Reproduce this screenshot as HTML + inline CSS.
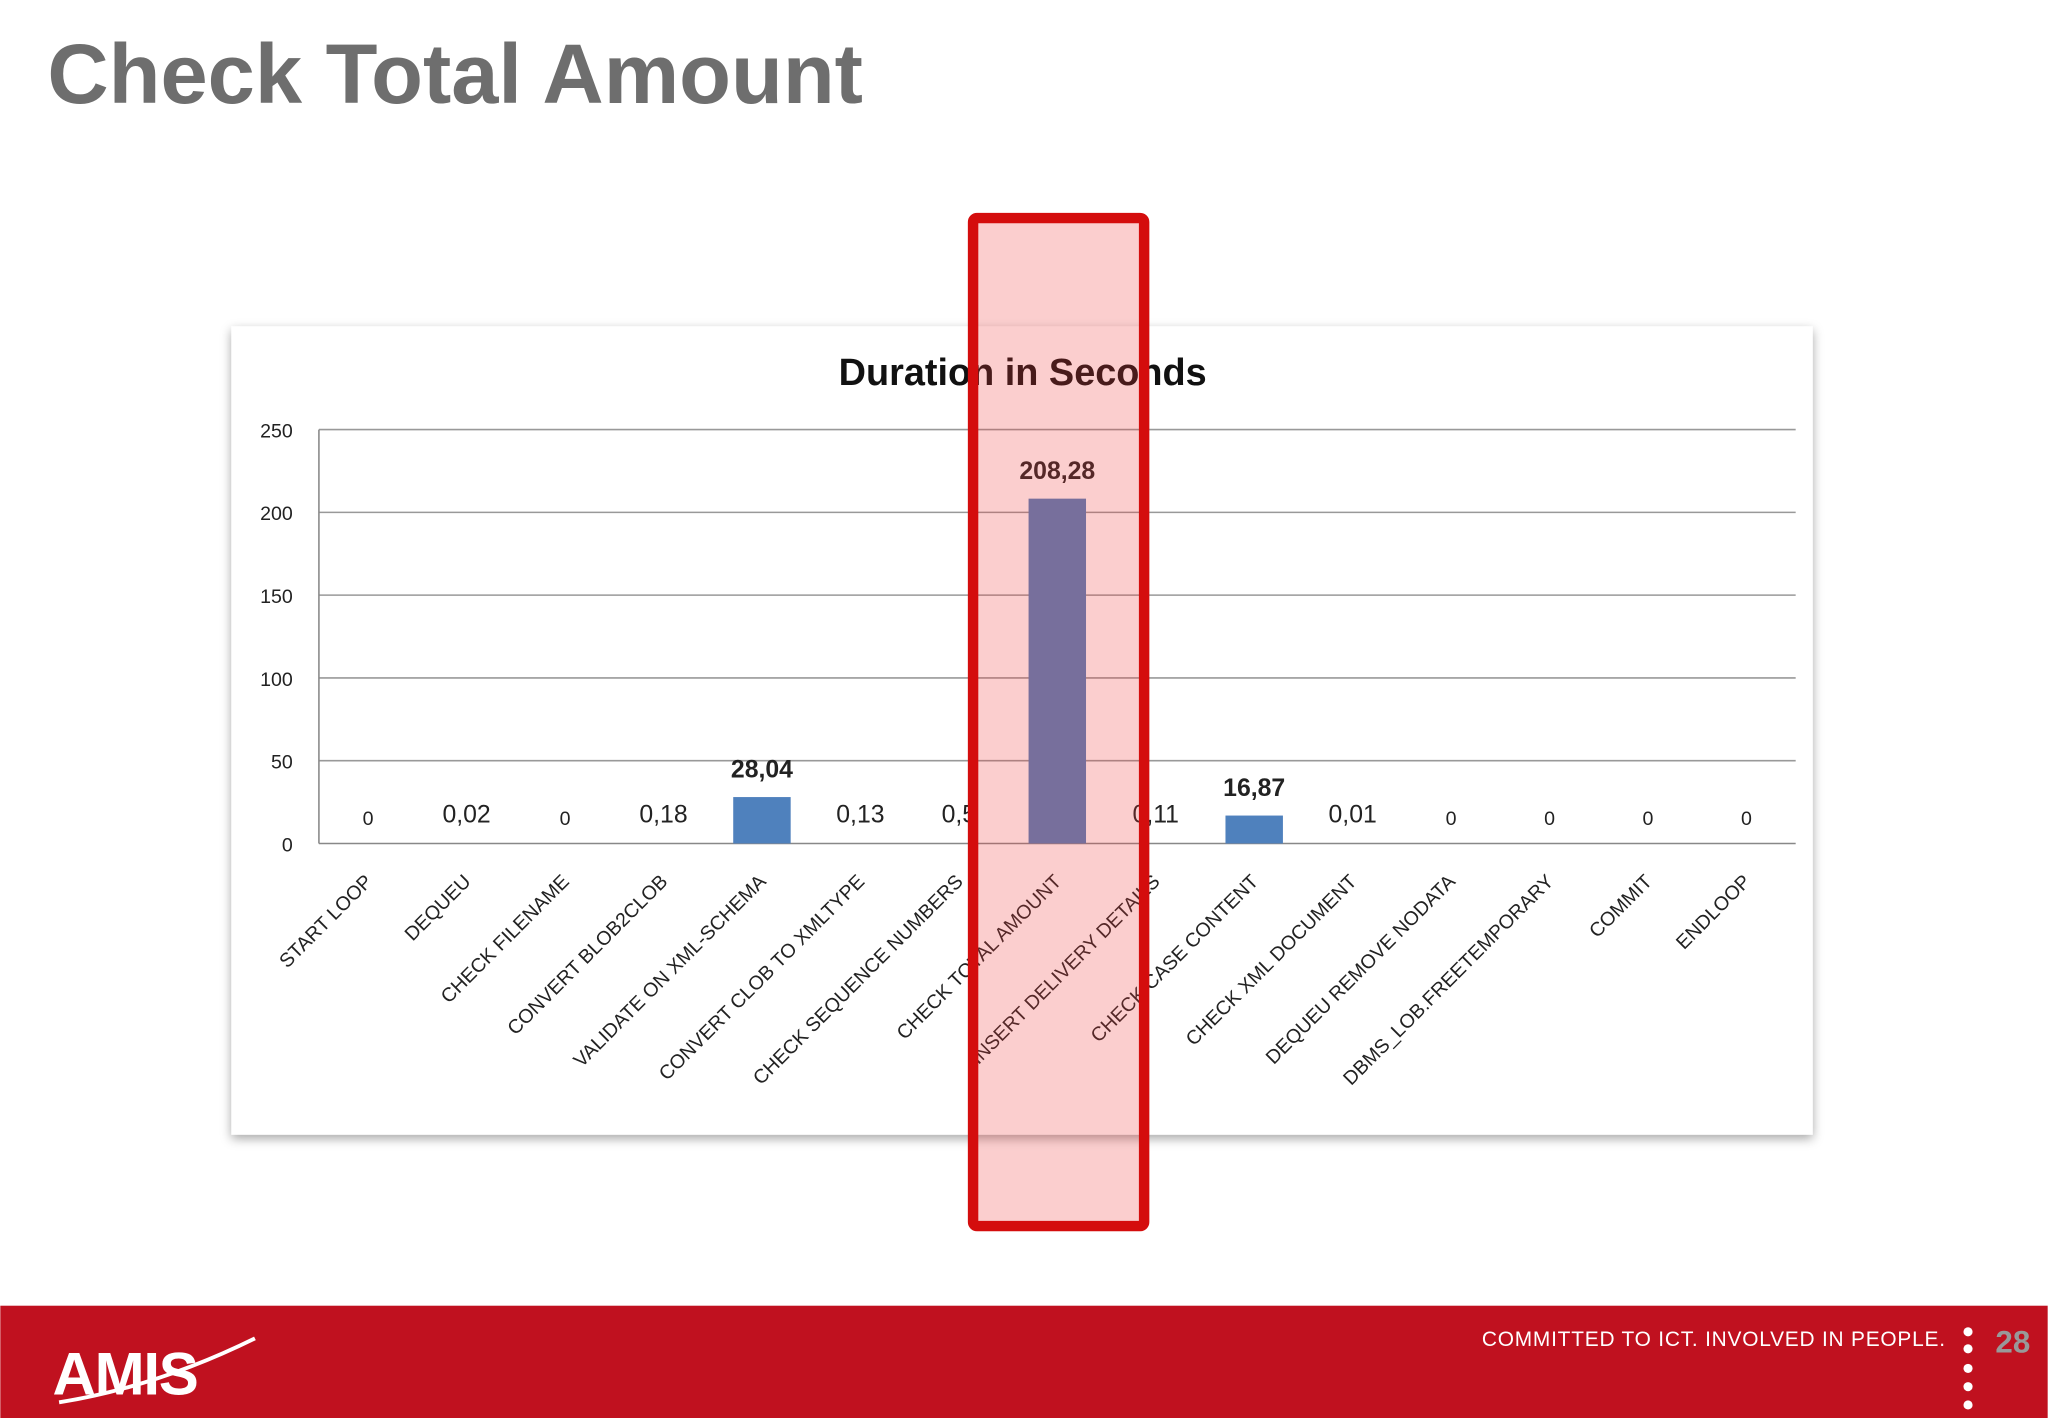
<!DOCTYPE html>
<html><head><meta charset="utf-8">
<style>
html,body{margin:0;padding:0;background:#fff;}
svg{display:block;font-family:"Liberation Sans",sans-serif;}
</style></head>
<body>
<svg id="s" width="2048" height="1418" viewBox="0 0 1568 1086" xmlns="http://www.w3.org/2000/svg">
<defs>
<filter id="sh" x="-5%" y="-5%" width="110%" height="115%"><feDropShadow dx="0" dy="3" stdDeviation="4" flood-color="#000" flood-opacity="0.35"/></filter>
</defs>
<text x="36" y="79" font-size="65" font-weight="bold" fill="#6e6e6e">Check Total Amount</text>
<rect x="177" y="250" width="1211" height="619" fill="#fff" filter="url(#sh)"/>
<text x="783" y="295" font-size="29" font-weight="bold" text-anchor="middle" fill="#111">Duration in Seconds</text>
<g id="grid"></g>
<g id="bars"></g>
<g id="labels"></g>
<rect x="745" y="167" width="131" height="772" rx="3" fill="rgba(240,60,60,0.25)" stroke="#d40d0d" stroke-width="8"/>
<rect x="0" y="1000" width="1568" height="86" fill="#c0111f"/>
<text x="40" y="1068" font-size="46" font-weight="bold" fill="#fff" letter-spacing="-1">AMIS</text>
<path d="M45 1074 Q120 1062 195 1025" stroke="#fff" stroke-width="3" fill="none"/>
<text x="1490" y="1031" font-size="16" fill="#fff" text-anchor="end" letter-spacing="0.6">COMMITTED TO ICT. INVOLVED IN PEOPLE.</text>
<g fill="#fff">
<circle cx="1507" cy="1020" r="3.5"/><circle cx="1507" cy="1033" r="3.5"/><circle cx="1507" cy="1048" r="3.5"/><circle cx="1507" cy="1062" r="3.5"/><circle cx="1507" cy="1076" r="3.5"/>
</g>
<text x="1528" y="1036" font-size="24" font-weight="bold" fill="#999">28</text>
</svg>
<script>
const categories=["START LOOP","DEQUEU","CHECK FILENAME","CONVERT BLOB2CLOB","VALIDATE ON XML-SCHEMA","CONVERT CLOB TO XMLTYPE","CHECK SEQUENCE  NUMBERS","CHECK TOTAL AMOUNT","INSERT DELIVERY DETAILS","CHECK CASE CONTENT","CHECK XML DOCUMENT","DEQUEU REMOVE NODATA","DBMS_LOB.FREETEMPORARY","COMMIT","ENDLOOP"];
const values=[0,0.02,0,0.18,28.04,0.13,0.5,208.28,0.11,16.87,0.01,0,0,0,0];
const valueLabels=["0","0,02","0","0,18","28,04","0,13","0,5","208,28","0,11","16,87","0,01","0","0","0","0"];
const yTicks=[0,50,100,150,200,250];
const NS="http://www.w3.org/2000/svg";
const X0=244,X1=1375,Y0=646,Y1=329,YMAX=250;
const band=(X1-X0)/categories.length;
const xc=i=>X0+band*(i+0.5);
const y=v=>Y0-(v/YMAX)*(Y0-Y1);
function mk(t,a,p){const e=document.createElementNS(NS,t);for(const k in a)e.setAttribute(k,a[k]);p.appendChild(e);return e;}
const grid=document.getElementById('grid'),bars=document.getElementById('bars'),labels=document.getElementById('labels');
yTicks.forEach(t=>{
 const l=mk('line',{x1:X0,x2:X1,y1:y(t),y2:y(t),stroke:t===0?'#888':'#999','stroke-width':1.2},grid);
 
 
 const tx=mk('text',{x:224,y:y(t)+6,'font-size':15,'text-anchor':'end',fill:'#222'},grid);
 tx.textContent=t;
 
 
});
mk('line',{x1:X0,x2:X0,y1:Y1,y2:Y0,stroke:'#888','stroke-width':1.2},grid);
categories.forEach((c,i)=>{
 const v=values[i];
 if(v>0.6){
  const r=mk('rect',{x:xc(i)-22,y:y(v),width:44,height:Y0-y(v),fill:'#4f81bd'},bars);
  
  
 }
 const big=v>10, zero=v===0;
 const vl=mk('text',{x:xc(i),y:big?y(v)-15:(zero?632:630),'font-size':big?19:(zero?15:19),'font-weight':big?'bold':'normal','text-anchor':'middle',fill:'#222'},labels);
 vl.textContent=valueLabels[i];
 
 
 const cl=mk('text',{x:0,y:0,'font-size':15,'text-anchor':'end',fill:'#222',transform:`translate(${xc(i)+4},${Y0+30}) rotate(-45)`},labels);
 cl.textContent=c;
 
 
});
</script>
</body></html>
